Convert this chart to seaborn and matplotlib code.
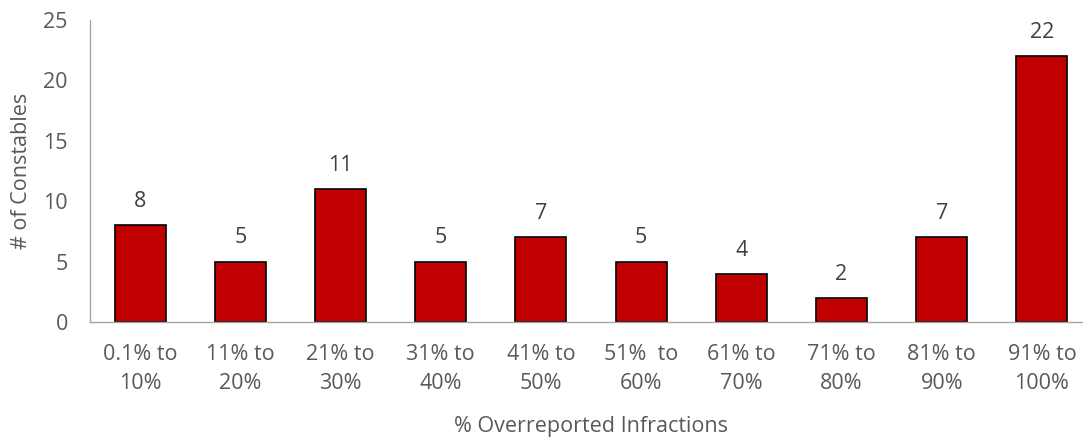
import matplotlib
matplotlib.use("Agg")
import matplotlib.pyplot as plt
import seaborn as sns
import pandas as pd

# data
categories = ["0.1% to\n10%", "11% to\n20%", "21% to\n30%", "31% to\n40%", "41% to\n50%",
              "51%  to\n60%", "61% to\n70%", "71% to\n80%", "81% to\n90%", "91% to\n100%"]
constables = [8, 5, 11, 5, 7, 5, 4, 2, 7, 22]

df = pd.DataFrame({"range": categories, "count": constables})

sns.set_style("white")
plt.rcParams['font.family'] = ['Open Sans', 'DejaVu Sans']
text_grey = "#595959"
axis_grey = "#A6A6A6"
fs = 15.5

fig = plt.figure(figsize=(10.83, 4.38), dpi=100)
ax = fig.add_axes([90 / 1083, 116 / 438, 1002 / 1083, 302 / 438])

sns.barplot(data=df, x="range", y="count", color="#C00000", saturation=1,
            edgecolor="black", linewidth=1.2, width=0.51, ax=ax)

# value labels above bars
for i, v in enumerate(constables):
    ax.annotate(str(v), (i, v), xytext=(0, 17), textcoords="offset points",
                ha="center", va="center", fontsize=fs, color="#404040")

ax.set_ylim(0, 25)
ax.set_xlim(-0.5, len(categories) - 0.5)
ax.set_yticks(range(0, 26, 5))
ax.tick_params(axis="y", length=0, pad=16, labelsize=fs, labelcolor=text_grey)
ax.tick_params(axis="x", length=0, pad=16, labelsize=fs, labelcolor=text_grey)
for lab in ax.get_xticklabels():
    lab.set_linespacing(1.5)

ax.set_xlabel("% Overreported Infractions", fontsize=fs, color=text_grey, labelpad=16)
ax.set_ylabel("# of Constables", fontsize=fs, color=text_grey, labelpad=8)

sns.despine(ax=ax, top=True, right=True)
for s in ["left", "bottom"]:
    ax.spines[s].set_color(axis_grey)
    ax.spines[s].set_linewidth(1.0)

fig.savefig("out.png", dpi=100)
